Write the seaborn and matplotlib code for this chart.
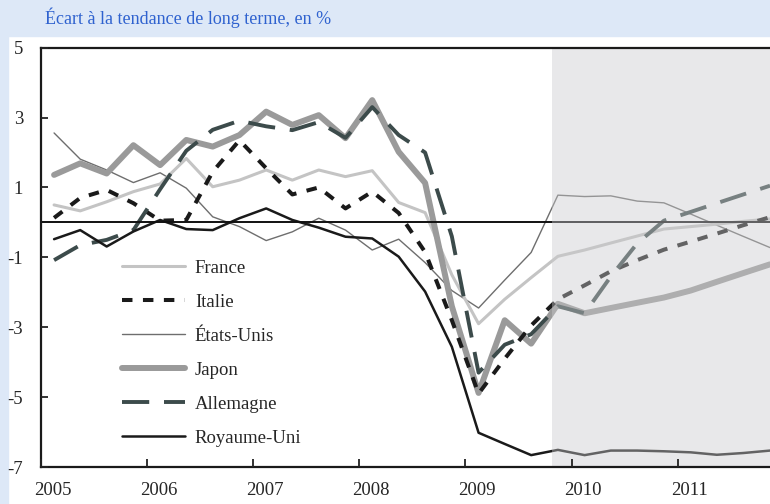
import matplotlib
matplotlib.use('Agg')
import matplotlib.pyplot as plt
import matplotlib.patches as mpatches
import numpy as np
import pandas as pd
import seaborn as sns

# trimestres 2005T1 - 2011T4 (points au milieu du trimestre)
trimestres = pd.period_range('2005Q1', '2011Q4', freq='Q')
dates = trimestres.to_timestamp(how='start') + pd.Timedelta(days=45)

france = [0.50, 0.33, 0.59, 0.88, 1.10, 1.83, 1.02, 1.21, 1.50, 1.21, 1.50, 1.31, 1.48, 0.57,
          0.28, -1.50, -2.90, -2.20, -1.58, -0.97, -0.79, -0.59, -0.39, -0.19, -0.12, -0.05, 0.03, 0.10]
italie = [0.13, 0.70, 0.93, 0.55, 0.05, 0.07, 1.45, 2.35, 1.55, 0.80, 1.00, 0.40, 0.88, 0.27,
          -0.85, -2.80, -4.90, -3.90, -2.95, -2.20, -1.80, -1.40, -1.08, -0.78, -0.55, -0.32, -0.08, 0.15]
etats_unis = [2.56, 1.81, 1.50, 1.14, 1.42, 0.98, 0.16, -0.12, -0.52, -0.27, 0.12, -0.22, -0.79, -0.48,
              -1.15, -1.95, -2.45, -1.65, -0.86, 0.78, 0.74, 0.76, 0.61, 0.56, 0.24, -0.08, -0.40, -0.72]
japon = [1.36, 1.69, 1.40, 2.21, 1.64, 2.36, 2.17, 2.50, 3.17, 2.79, 3.07, 2.41, 3.50, 2.02,
         1.13, -2.40, -4.88, -2.80, -3.47, -2.33, -2.60, -2.45, -2.30, -2.15, -1.95, -1.70, -1.45, -1.20]
allemagne = [-1.08, -0.65, -0.50, -0.22, 0.95, 2.05, 2.65, 2.91, 2.75, 2.64, 2.87, 2.42, 3.30, 2.50,
             2.00, -0.40, -4.30, -3.50, -3.20, -2.40, -2.60, -1.55, -0.60, 0.05, 0.30, 0.55, 0.80, 1.05]
royaume_uni = [-0.48, -0.22, -0.69, -0.26, 0.07, -0.19, -0.22, 0.12, 0.40, 0.07, -0.15, -0.41, -0.46, -0.98,
               -1.98, -3.56, -6.02, -6.34, -6.66, -6.51, -6.66, -6.53, -6.53, -6.55, -6.58, -6.65, -6.60, -6.53]

df = pd.DataFrame({'date': dates, 'France': france, 'Italie': italie,
                   'États-Unis': etats_unis, 'Japon': japon,
                   'Allemagne': allemagne, 'Royaume-Uni': royaume_uni})

sns.set_style('ticks')
plt.rcParams['font.family'] = ['Liberation Serif', 'DejaVu Serif']
plt.rcParams['font.size'] = 13.5

fig = plt.figure(figsize=(7.7, 5.04), dpi=100)
fig.patch.set_facecolor('white')
bleu_clair = '#dde8f7'
fig.add_artist(mpatches.Rectangle((0, 1 - 36 / 504), 1, 36 / 504, transform=fig.transFigure,
                                  color=bleu_clair, zorder=-10))
fig.add_artist(mpatches.Rectangle((0, 0), 8 / 770, 1, transform=fig.transFigure,
                                  color=bleu_clair, zorder=-10))
fig.text(45 / 770, 1 - 18 / 504, 'Écart à la tendance de long terme, en %',
         color='#2f62cf', fontsize=13, va='center', ha='left')

ax = fig.add_axes([41 / 770, 37 / 504, 729 / 770, 419.3 / 504])

styles = {
    'France': dict(color='#c4c4c4', lw=2.2, ls='-'),
    'Italie': dict(color='#1a1a1a', lw=2.9, ls=(0, (2.6, 2.6))),
    'États-Unis': dict(color='#6e6e6e', lw=1.0, ls='-'),
    'Japon': dict(color='#9a9a9a', lw=4.3, ls='-'),
    'Allemagne': dict(color='#3c4b4b', lw=2.8, ls=(0, (7, 3.8))),
    'Royaume-Uni': dict(color='#1a1a1a', lw=1.8, ls='-'),
}
ordre_trace = ['États-Unis', 'France', 'Japon', 'Italie', 'Allemagne', 'Royaume-Uni']
for pays in ordre_trace:
    st = styles[pays]
    sns.lineplot(data=df, x='date', y=pays, ax=ax, color=st['color'], linewidth=st['lw'],
                 linestyle=st['ls'], label=pays)

ax.axhline(0, color='#111111', lw=1.4, zorder=2.2)
ax.axvspan(pd.Timestamp('2009-10-25'), pd.Timestamp('2012-06-01'),
           color=(202 / 255, 202 / 255, 205 / 255), alpha=0.42, lw=0, zorder=2.4)

ax.set_xlim(pd.Timestamp('2005-01-01'), dates[-1])
ax.set_ylim(-7, 5)
ax.set_yticks([5, 3, 1, -1, -3, -5, -7])
ax.set_yticklabels(['5', '3', '1', '-1', '-3', '-5', '-7'])

annees = list(range(2005, 2012))
ax.set_xticks([pd.Timestamp(f'{a}-01-01') for a in annees])
ax.set_xticklabels([])
ax.set_xticks([pd.Timestamp(f'{a}-02-10') for a in annees], minor=True)
ax.set_xticklabels([str(a) for a in annees], minor=True)
ax.tick_params(axis='x', which='major', direction='in', length=6, width=1.3, color='#222222')
ax.tick_params(axis='x', which='minor', length=0, pad=11, labelsize=13.5)
ax.tick_params(axis='y', direction='in', length=5, width=1.3, color='#222222', pad=13, labelsize=13.5)
ax.set_axisbelow(False)

ax.set_xlabel('')
ax.set_ylabel('')
for cote in ['left', 'top', 'bottom']:
    ax.spines[cote].set_linewidth(1.6)
    ax.spines[cote].set_color('#1a1a1a')
ax.spines['right'].set_visible(False)

handles, labels = ax.get_legend_handles_labels()
ordre_legende = ['France', 'Italie', 'États-Unis', 'Japon', 'Allemagne', 'Royaume-Uni']
h = [handles[labels.index(p)] for p in ordre_legende]
ax.legend(h, ordre_legende, loc='upper left', bbox_to_anchor=(0.111, 0.495), frameon=False,
          borderpad=0, borderaxespad=0, handlelength=3.36, handletextpad=0.53,
          labelspacing=0.9, fontsize=13.5)

fig.savefig('out.png', dpi=100, facecolor=fig.get_facecolor())
